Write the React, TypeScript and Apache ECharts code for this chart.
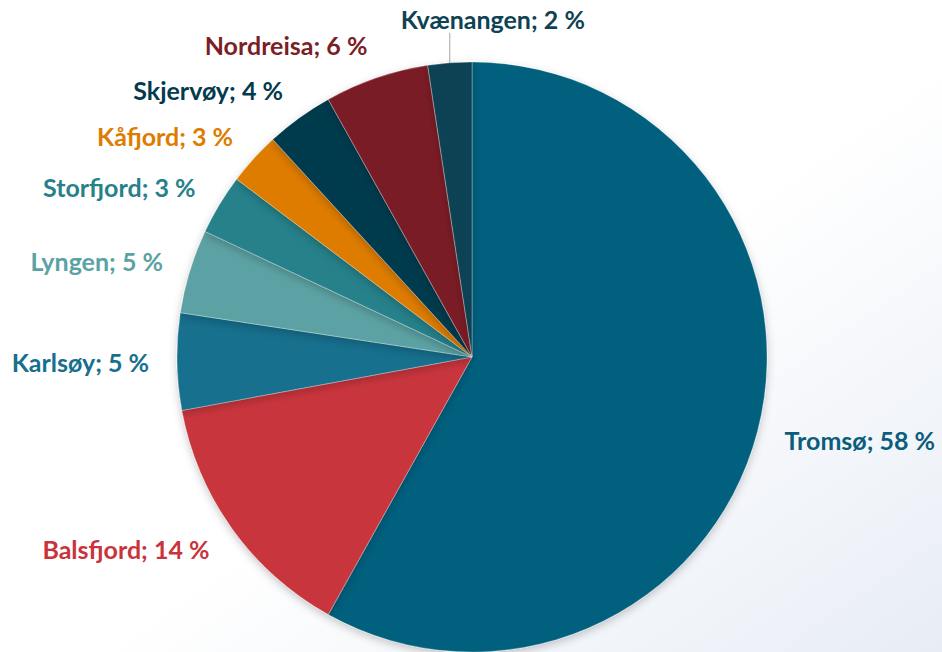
import React, { useEffect, useRef } from "react";
import * as echarts from "echarts";

const categories = ["Tromsø", "Balsfjord", "Karlsøy", "Lyngen", "Storfjord", "Kåfjord", "Skjervøy", "Nordreisa", "Kvænangen"];
const values = [58.1, 14.0, 5.3, 4.6, 3.3, 2.9, 3.7, 5.7, 2.4];
const colors = ["#00607e", "#c9343c", "#176f8e", "#5ba2a4", "#26818a", "#de7c00", "#033a4e", "#7a1f25", "#0f4254"];
const labelColors = ["#0a5e7b", "#c9343c", "#176f8e", "#5ba2a4", "#26818a", "#de7c00", "#033a4e", "#7a1f25", "#0f4254"];

const CX = 472;
const CY = 357;

export default function App() {
  const ref = useRef<HTMLDivElement>(null);
  useEffect(() => {
    const chart = echarts.init(ref.current!, undefined, { renderer: "svg" });
    const kvIndex = categories.indexOf("Kvænangen");
    chart.setOption({
      animation: false,
      backgroundColor: new echarts.graphic.LinearGradient(0, 0, 1, 1, [
        { offset: 0, color: "#ffffff" },
        { offset: 0.55, color: "#ffffff" },
        { offset: 1, color: "#e8edf5" },
      ]),
      series: [
        {
          type: "pie",
          center: [CX, CY],
          radius: 295,
          startAngle: 90,
          clockwise: true,
          avoidLabelOverlap: false,
          percentPrecision: 0,
          itemStyle: {
            borderColor: "rgba(255,255,255,0.45)",
            borderWidth: 0.6,
            shadowBlur: 8,
            shadowOffsetY: 3,
            shadowColor: "rgba(0,0,0,0.22)",
          },
          label: {
            show: true,
            position: "outside",
            formatter: "{b}; {d} %",
            fontFamily: "Lato",
            fontWeight: "bold",
            fontSize: 25,
            distanceToLabelLine: 0,
          },
          labelLine: { show: false, length: 28, length2: 0 },
          labelLayout: (params: any) => {
            if (params.dataIndex === kvIndex && params.labelLinePoints) {
              const p = params.labelLinePoints[0];
              return {
                x: p[0] + 43,
                y: p[1] - 31,
                align: "center",
                verticalAlign: "bottom",
                labelLinePoints: [
                  [p[0], p[1]],
                  [p[0], p[1] - 30],
                  [p[0], p[1] - 30],
                ],
              };
            }
            const r = params.labelRect;
            if (!r) return {};
            const mx = r.x + r.width / 2 - CX;
            const my = r.y + r.height / 2 - CY;
            const n = Math.hypot(mx, my) || 1;
            return { dy: (my / n) * 7 };
          },
          data: categories.map((name, i) => ({
            name,
            value: values[i],
            itemStyle: { color: colors[i] },
            label: { color: labelColors[i] },
            labelLine:
              i === kvIndex
                ? { show: true, lineStyle: { color: "#a6a6a6", width: 1 } }
                : { show: false },
          })),
        },
      ],
    });
    return () => chart.dispose();
  }, []);
  return (
    <div
      ref={ref}
      style={{ position: "fixed", left: 0, top: 0, width: 942, height: 652 }}
    />
  );
}
